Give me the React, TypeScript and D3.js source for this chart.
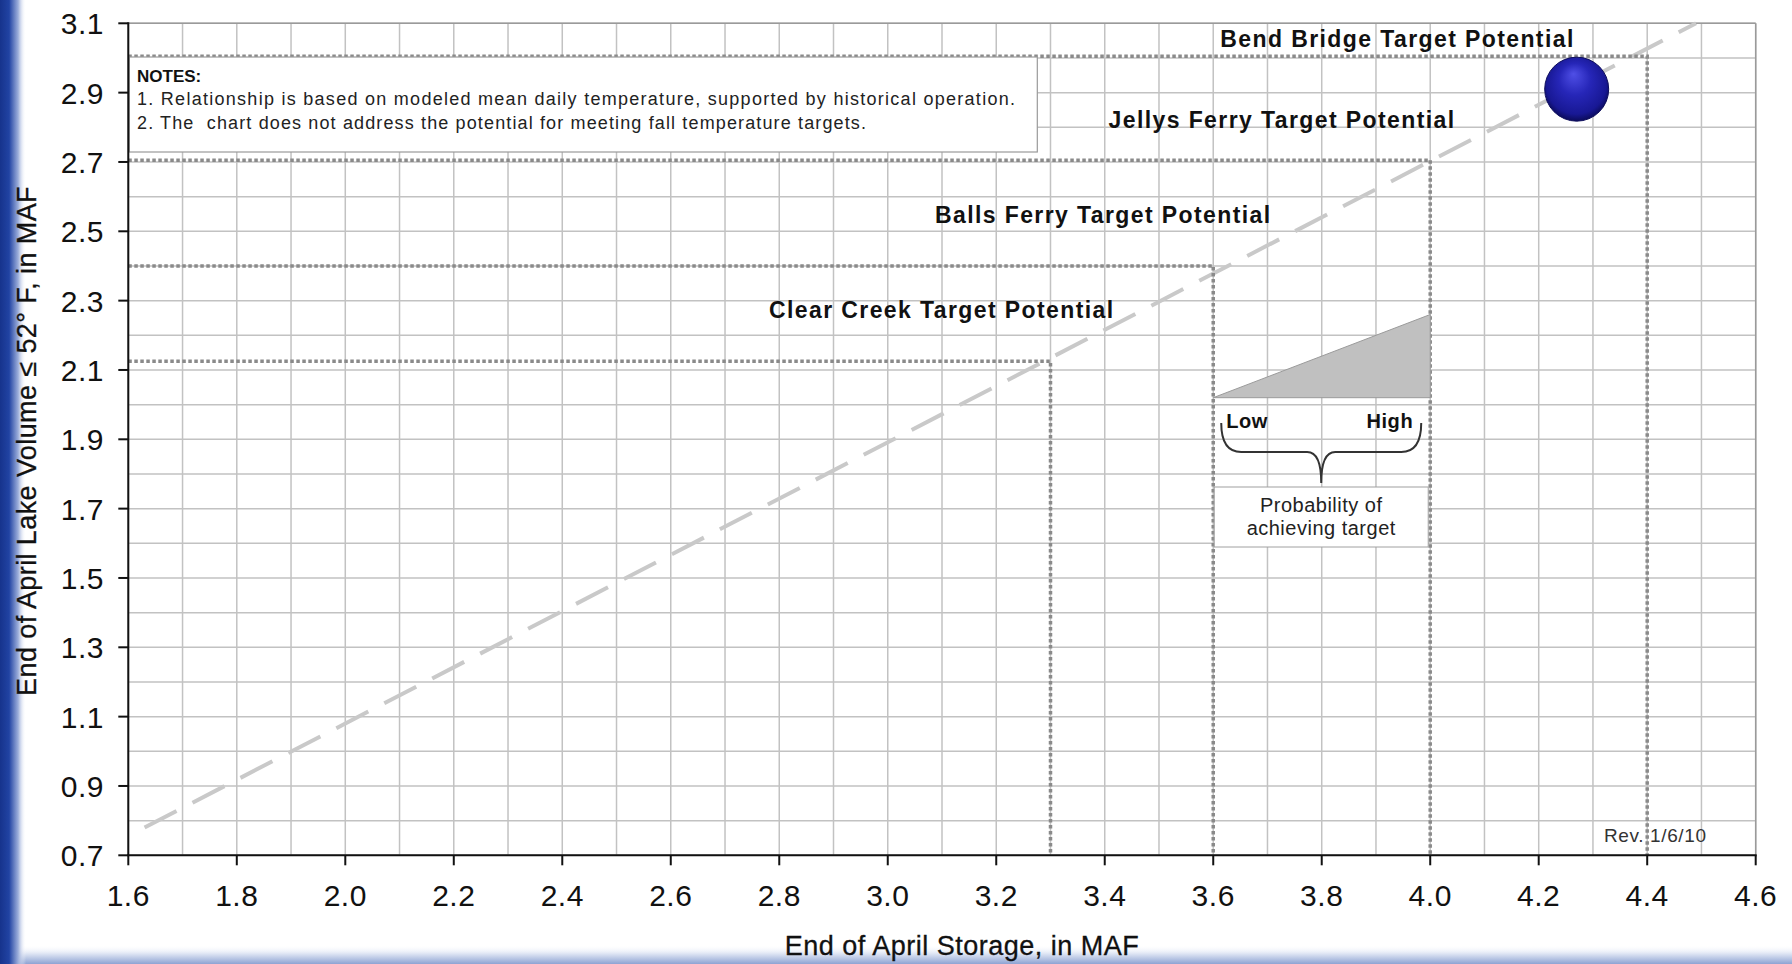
import React from "react";
import * as d3 from "d3";

// ---------- data ----------
const xTickLabels = ["1.6", "1.8", "2.0", "2.2", "2.4", "2.6", "2.8", "3.0", "3.2", "3.4", "3.6", "3.8", "4.0", "4.2", "4.4", "4.6"];
const yTickLabels = ["0.7", "0.9", "1.1", "1.3", "1.5", "1.7", "1.9", "2.1", "2.3", "2.5", "2.7", "2.9", "3.1"];

const trendStorage = [1.63, 4.49];
const trendVolume = [0.78, 3.1];

const targetNames = ["Clear Creek Target Potential", "Balls Ferry Target Potential", "Jellys Ferry Target Potential", "Bend Bridge Target Potential"];
const targetStorage = [3.3, 3.6, 4.0, 4.4];
const targetVolume = [2.125, 2.4, 2.705, 3.005];

const currentStorage = 4.27;
const currentVolume = 2.91;

const probabilityStorage = [3.6, 4.0, 4.0];
const probabilityVolume = [2.02, 2.02, 2.26];

const notesTitle = "NOTES:";
const notesLines = [
  "1. Relationship is based on modeled mean daily temperature, supported by historical operation.",
  "2. The  chart does not address the potential for meeting fall temperature targets.",
];

const xTitle = "End of April Storage, in MAF";
const yTitle = "End of April Lake Volume \u2264 52\u00B0 F, in MAF";
const revText = "Rev. 1/6/10";

// ---------- layout ----------
const W = 1792;
const H = 964;
const FONT = "'Liberation Sans', Arial, Helvetica, sans-serif";

export default function App() {
  const x = d3.scaleLinear().domain([1.6, 4.6]).range([128.3, 1755.7]);
  const y = d3.scaleLinear().domain([0.7, 3.1]).range([855.3, 23.3]);

  const gridX = d3.range(16, 47).map((v) => v / 10);
  const gridY = d3.range(7, 32).map((v) => v / 10);

  const line = d3
    .line<[number, number]>()
    .x((d) => x(d[0]))
    .y((d) => y(d[1]));

  const trendPts: [number, number][] = trendStorage.map((s, i) => [s, trendVolume[i]]);
  const triPts: [number, number][] = probabilityStorage.map((s, i) => [s, probabilityVolume[i]]);

  // label anchors (storage, volume) in data space
  const labelAnchors: [number, number][] = [
    [2.781, 2.25],
    [3.087, 2.524],
    [3.407, 2.798],
    [3.613, 3.031],
  ];

  // brace geometry
  const L = x(3.6) + 8;
  const R = x(4.0) - 9;
  const M = (L + R) / 2;
  const yT = 423;
  const yM = 452;
  const yP = 483;
  const brace = `M${L},${yT} Q${L},${yM} ${L + 20},${yM} L${M - 14},${yM} Q${M},${yM} ${M},${yP} Q${M},${yM} ${M + 14},${yM} L${R - 20},${yM} Q${R},${yM} ${R},${yT}`;

  const x0 = x.range()[0];
  const x1 = x.range()[1];
  const y0 = y.range()[0];
  const y1 = y.range()[1];

  return (
    <svg
      width={W}
      height={H}
      style={{ position: "absolute", left: 0, top: 0, display: "block", background: "#fff" }}
      fontFamily={FONT}
    >
      <defs>
        <linearGradient id="leftEdge" x1="0" y1="0" x2="1" y2="0">
          <stop offset="0" stopColor="#16338c" />
          <stop offset="0.35" stopColor="#2143a3" />
          <stop offset="0.7" stopColor="#9dafdb" />
          <stop offset="1" stopColor="#ffffff" stopOpacity="0" />
        </linearGradient>
        <linearGradient id="bottomEdge" x1="0" y1="0" x2="0" y2="1">
          <stop offset="0" stopColor="#ffffff" stopOpacity="0" />
          <stop offset="0.45" stopColor="#dfe6f4" />
          <stop offset="1" stopColor="#8ea3d3" />
        </linearGradient>
        <radialGradient id="ball" cx="50%" cy="45%" r="55%" fx="45%" fy="26%">
          <stop offset="0" stopColor="#4f4fe6" />
          <stop offset="0.45" stopColor="#2626b8" />
          <stop offset="0.85" stopColor="#181894" />
          <stop offset="1" stopColor="#0b0b5a" />
        </radialGradient>
      </defs>

      <rect x={0} y={0} width={W} height={H} fill="#fff" />
      <rect x={0} y={945} width={W} height={H - 945} fill="url(#bottomEdge)" />
      <rect x={0} y={0} width={26} height={H} fill="url(#leftEdge)" />

      {/* grid */}
      <g stroke="#c2c2c2" strokeWidth={1.5}>
        {gridX.map((v) => (
          <line key={"gx" + v} x1={x(v)} x2={x(v)} y1={y0} y2={y1} />
        ))}
        {gridY.map((v) => (
          <line key={"gy" + v} x1={x0} x2={x1} y1={y(v)} y2={y(v)} />
        ))}
      </g>
      <line x1={x0} x2={x1} y1={y1} y2={y1} stroke="#9a9a9a" strokeWidth={1.5} />
      <line x1={x1} x2={x1} y1={y1} y2={y0} stroke="#9a9a9a" strokeWidth={1.5} />

      {/* trend line */}
      <path d={line(trendPts) || ""} fill="none" stroke="#c9c9c9" strokeWidth={4} strokeDasharray="36,18" />

      {/* target dotted guides */}
      <g stroke="#8a8a8a" strokeWidth={3.5} strokeDasharray="3.5,2.5" fill="none">
        {targetStorage.map((s, i) => (
          <path
            key={"t" + i}
            d={line([
              [1.6, targetVolume[i]],
              [s, targetVolume[i]],
              [s, 0.7],
            ]) || ""}
          />
        ))}
      </g>

      {/* probability triangle */}
      <path d={(line(triPts) || "") + "Z"} fill="#c0c0c0" stroke="#9a9a9a" strokeWidth={1} />
      <g fontWeight="bold" fontSize={20} fill="#111" letterSpacing={0.6}>
        <text x={L + 5} y={428}>Low</text>
        <text x={R - 8} y={428} textAnchor="end">High</text>
      </g>
      <path d={brace} fill="none" stroke="#333" strokeWidth={2} />
      <rect x={x(3.6) + 1} y={487} width={x(4.0) - x(3.6) - 3} height={60} fill="#fff" stroke="#a0a0a0" strokeWidth={1} />
      <g fontSize={20} fill="#222" textAnchor="middle" letterSpacing={0.5}>
        <text x={M} y={512}>Probability of</text>
        <text x={M} y={535}>achieving target</text>
      </g>

      {/* notes box */}
      <rect x={x(1.6) + 1} y={57} width={908} height={95} fill="#fff" stroke="#9a9a9a" strokeWidth={1.2} />
      <text x={137} y={82} fontSize={17} fontWeight="bold" fill="#111">{notesTitle}</text>
      {notesLines.map((t, i) => (
        <text
          key={"n" + i}
          x={137}
          y={105 + i * 24}
          fontSize={18}
          fill="#222"
          style={{ whiteSpace: "pre" }}
          textLength={i === 0 ? 878 : 729}
          lengthAdjust="spacing"
        >
          {t}
        </text>
      ))}

      {/* target labels */}
      <g fontWeight="bold" fontSize={23} fill="#111" letterSpacing={1.4}>
        {targetNames.map((n, i) => (
          <text key={"l" + i} x={x(labelAnchors[i][0])} y={y(labelAnchors[i][1])}>
            {n}
          </text>
        ))}
      </g>

      {/* current point */}
      <circle cx={x(currentStorage)} cy={y(currentVolume)} r={32} fill="url(#ball)" stroke="#0d0d5c" strokeWidth={1} />

      {/* rev */}
      <text x={1604} y={842} fontSize={19} fill="#333" textLength={102} lengthAdjust="spacing">{revText}</text>

      {/* axes */}
      <line x1={x0} x2={x0} y1={y1 - 1} y2={y0} stroke="#111" strokeWidth={2} />
      <line x1={x0 - 1} x2={x1 + 1} y1={y0} y2={y0} stroke="#111" strokeWidth={2} />
      <g stroke="#111" strokeWidth={2}>
        {yTickLabels.map((t) => (
          <line key={"yt" + t} x1={x0 - 10} x2={x0} y1={y(+t)} y2={y(+t)} />
        ))}
        {xTickLabels.map((t) => (
          <line key={"xt" + t} x1={x(+t)} x2={x(+t)} y1={y0} y2={y0 + 10} />
        ))}
      </g>
      <g fontSize={30} fill="#111">
        {yTickLabels.map((t) => (
          <text key={"yl" + t} x={104} y={y(+t) + 11} textAnchor="end" letterSpacing={0.5}>
            {t}
          </text>
        ))}
        {xTickLabels.map((t) => (
          <text key={"xl" + t} x={x(+t)} y={906} textAnchor="middle" letterSpacing={0.5}>
            {t}
          </text>
        ))}
      </g>

      {/* axis titles */}
      <text x={962} y={955} fontSize={27} fill="#111" textAnchor="middle" letterSpacing={0.5} stroke="#111" strokeWidth={0.3}>
        {xTitle}
      </text>
      <text
        transform={`translate(36,441) rotate(-90)`}
        fontSize={27}
        fill="#111"
        textAnchor="middle"
        letterSpacing={0.4}
        stroke="#111"
        strokeWidth={0.3}
      >
        {yTitle}
      </text>
    </svg>
  );
}
